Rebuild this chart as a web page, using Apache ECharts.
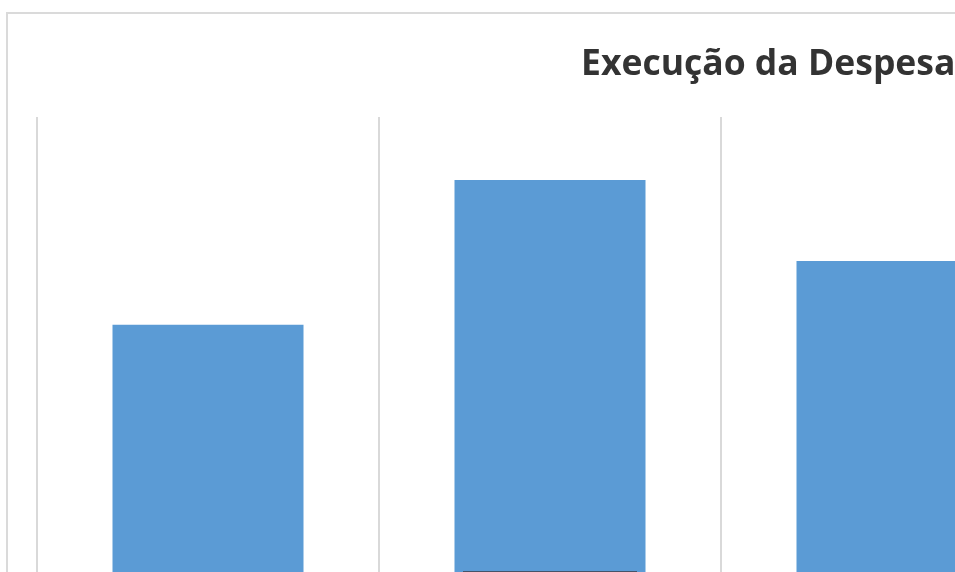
<!DOCTYPE html>
<html>
<head>
<meta charset="utf-8">
<script src="https://cdn.jsdelivr.net/npm/echarts@6/dist/echarts.min.js"></script>
<style>
  html, body { margin: 0; padding: 0; background: #fff; overflow: hidden; }
  #chart { position: absolute; left: 6px; top: 12px; width: 1520px; height: 720px; border: 2px solid #dadada; }
</style>
</head>
<body>
<div id="chart"></div>
<script>
var categories = ['2019', '2020', '2021'];
var despesa = [732, 1058, 876];
var executado = [140, 178, 155];

var chart = echarts.init(document.getElementById('chart'));
var option = {
    animation: false,
    title: {
        text: 'Execução da Despesa',
        left: 568,
        top: 28,
        textStyle: {
            fontFamily: 'Open Sans',
            fontWeight: 'bold',
            fontSize: 35.5,
            color: '#333333'
        }
    },
    grid: { left: 29, top: 103, width: 1026, height: 533 },
    xAxis: [
        {
            type: 'category',
            data: categories,
            axisLine: { show: false },
            axisTick: { show: false },
            axisLabel: { show: false },
            splitLine: { show: true, lineStyle: { color: '#d9d9d9', width: 2 } }
        },
        {
            type: 'category',
            data: categories,
            show: false
        }
    ],
    yAxis: {
        type: 'value',
        min: 0,
        max: 1200,
        show: false,
        splitLine: { show: false }
    },
    series: [
        {
            name: 'Despesa',
            type: 'bar',
            data: despesa,
            barWidth: 191,
            itemStyle: { color: '#5b9bd5' }
        },
        {
            name: 'Executado',
            type: 'bar',
            xAxisIndex: 1,
            data: executado,
            barWidth: 174,
            itemStyle: { color: '#44546a' }
        }
    ]
};
chart.setOption(option);
</script>
</body>
</html>
